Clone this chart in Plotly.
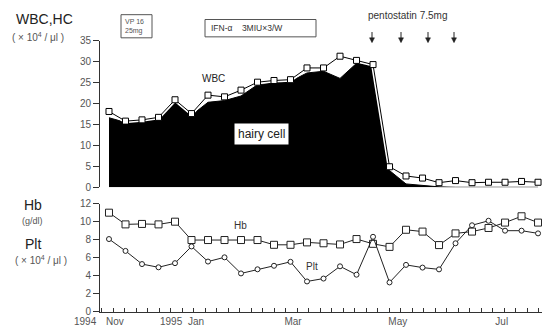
import plotly.graph_objects as go

# ---- data ----
sample_idx = list(range(27))
wbc = [18.1, 15.8, 16.1, 16.7, 20.9, 17.6, 22.0, 21.6, 23.2, 25.1, 25.5, 25.7, 28.5,
       28.5, 31.3, 30.3, 29.3, 4.9, 2.7, 2.2, 1.1, 1.6, 1.1, 1.2, 1.2, 1.4, 1.2]
hairy_cell = [16.6, 15.5, 15.7, 16.3, 20.5, 17.2, 20.3, 20.7, 21.8, 24.5, 24.9, 25.3, 27.3,
              27.7, 26.0, 29.6, 29.1, 4.0, 0.8, 0.4, 0.1, 0, 0, 0, 0, 0, 0]
hb = [11.0, 9.7, 9.75, 9.7, 10.0, 7.96, 7.96, 7.96, 7.96, 7.96, 7.43, 7.43, 7.7, 7.6,
      7.47, 8.07, 7.54, 7.2, 9.1, 8.9, 7.4, 8.7, 8.9, 9.3, 9.9, 10.6, 9.9]
plt_vals = [8.07, 6.75, 5.29, 4.93, 5.39, 7.25, 5.57, 6.04, 4.25, 4.71, 5.1, 5.54, 3.36,
            3.68, 5.04, 4.11, 8.32, 3.25, 5.2, 4.9, 4.7, 7.6, 9.6, 10.1, 9.0, 9.0, 8.7]
month_labels = ["Nov", "Jan", "Mar", "May", "Jul"]
month_pos = [0.36, 5.27, 11.15, 17.5, 23.8]
year_labels = ["1994", "1995"]
upper_ticks = [0, 5, 10, 15, 20, 25, 30, 35]
lower_ticks = [0, 2, 4, 6, 8, 10, 12]

W, H = 542, 336
FONT = "Liberation Sans, Arial, sans-serif"
GRAY = "#555555"
AX = "#333333"


def px(xp):
    return xp / W


def py(yp):
    return 1 - yp / H


fig = go.Figure()

# upper panel
fig.add_trace(go.Scatter(x=sample_idx, y=hairy_cell, yaxis="y2", mode="lines",
                         line=dict(color="black", width=1), fill="tozeroy",
                         fillcolor="black", hoverinfo="skip", showlegend=False))
fig.add_trace(go.Scatter(x=sample_idx, y=wbc, yaxis="y2", mode="lines",
                         line=dict(color="white", width=4), hoverinfo="skip", showlegend=False))
fig.add_trace(go.Scatter(x=sample_idx, y=wbc, yaxis="y2", mode="lines+markers",
                         line=dict(color="black", width=1),
                         marker=dict(symbol="square", size=6, color="white",
                                     line=dict(color="black", width=1)),
                         showlegend=False))

# lower panel
fig.add_trace(go.Scatter(x=sample_idx, y=hb, yaxis="y", mode="lines+markers",
                         line=dict(color="#222", width=1),
                         marker=dict(symbol="square", size=7, color="white",
                                     line=dict(color="#222", width=1)),
                         showlegend=False))
fig.add_trace(go.Scatter(x=sample_idx, y=plt_vals, yaxis="y", mode="lines+markers",
                         line=dict(color="#222", width=1),
                         marker=dict(symbol="circle", size=5, color="white",
                                     line=dict(color="#222", width=1)),
                         showlegend=False))

tickfont = dict(family=FONT, size=10, color=GRAY)

fig.update_layout(
    width=W, height=H, margin=dict(l=0, r=0, t=0, b=0),
    paper_bgcolor="white", plot_bgcolor="white",
    font=dict(family=FONT, color="#222"),
    xaxis=dict(domain=[px(100), 1], range=[-0.545, 26.24], anchor="y",
               tickmode="array", tickvals=month_pos, ticktext=month_labels,
               ticks="", showgrid=False, zeroline=False, showline=True,
               linecolor=AX, linewidth=1, tickfont=tickfont,
               minor=dict(tickmode="linear", tick0=-0.44, dtick=0.697,
                          ticks="inside", ticklen=4, tickcolor=AX, showgrid=False)),
    yaxis=dict(domain=[py(317), py(205)], range=[0, 12], anchor="x",
               tickmode="array", tickvals=lower_ticks, ticks="outside", ticklen=6,
               tickcolor=AX, showline=True, linecolor=AX, linewidth=1,
               showgrid=False, zeroline=False, tickfont=tickfont),
    yaxis2=dict(domain=[py(188), py(36)], range=[0, 35], anchor="x",
                tickmode="array", tickvals=upper_ticks, ticks="outside", ticklen=6,
                tickcolor=AX, showline=True, linecolor=AX, linewidth=1,
                showgrid=False, zeroline=False, tickfont=tickfont),
)

ann = []


def add_text(text, x, y, size, color="#222", xanchor="center", family=FONT, **kw):
    ann.append(dict(text=text, x=px(x), y=py(y), xref="paper", yref="paper",
                    showarrow=False, xanchor=xanchor, yanchor="middle",
                    font=dict(family=family, size=size, color=color), **kw))


unit = "( × 10<sup>4</sup> / μl )"
add_text("WBC,HC", 14, 13, 14, xanchor="left")
add_text(unit, 38, 32, 10, color=GRAY)
add_text("VP 16<br>25mg", 123, 21, 7, color=GRAY, xanchor="left", align="left")
add_text("IFN-α    3MIU×3/W", 209, 23, 8.5, color="#333", xanchor="left")
add_text("pentostatin 7.5mg", 366, 10, 10, color="#333", xanchor="left")
add_text("WBC", 213, 75, 10)
add_text("hairy cell", 261, 133, 12, bgcolor="white", borderpad=3)
add_text("Hb", 33, 206, 14)
add_text("(g/dl)", 32, 223, 9, color=GRAY)
add_text("Plt", 33, 247, 14)
add_text(unit, 41, 263, 10, color=GRAY)
add_text("Hb", 240, 228, 10, color="#333")
add_text("Plt", 312, 270, 10, color="#333")
add_text(year_labels[0], 85, 327, 10, color=GRAY)
add_text(year_labels[1], 171, 327, 10, color=GRAY)

fig.update_layout(annotations=ann)

shapes = [
    dict(type="rect", xref="paper", yref="paper", x0=px(121), x1=px(152), y0=py(33), y1=py(9),
         line=dict(color="#555", width=1)),
    dict(type="rect", xref="paper", yref="paper", x0=px(205), x1=px(316), y0=py(32), y1=py(14),
         line=dict(color="#555", width=1)),
]
# pentostatin dose arrows
for ax_ in [372, 401, 428, 454]:
    shapes.append(dict(type="line", xref="paper", yref="paper",
                       x0=px(ax_), x1=px(ax_), y0=py(27), y1=py(37),
                       line=dict(color="#222", width=1)))
    shapes.append(dict(type="path", xref="paper", yref="paper",
                       path=f"M {px(ax_ - 2.5)} {py(33)} L {px(ax_ + 2.5)} {py(33)} L {px(ax_)} {py(38)} Z",
                       fillcolor="#222", line=dict(color="#222", width=0.5)))
fig.update_layout(shapes=shapes)

fig.write_html("out.html", config={"displayModeBar": False},
               post_script="document.body.style.margin='0px';document.body.style.padding='0px';")
